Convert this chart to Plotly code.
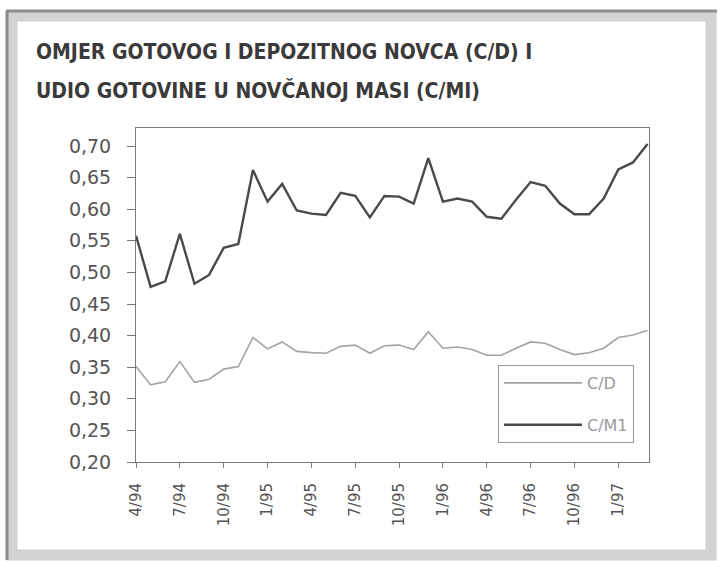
import plotly.graph_objects as go

months = ["4/94", "5/94", "6/94", "7/94", "8/94", "9/94", "10/94", "11/94", "12/94",
          "1/95", "2/95", "3/95", "4/95", "5/95", "6/95", "7/95", "8/95", "9/95",
          "10/95", "11/95", "12/95", "1/96", "2/96", "3/96", "4/96", "5/96", "6/96",
          "7/96", "8/96", "9/96", "10/96", "11/96", "12/96", "1/97", "2/97", "3/97"]

cd = [0.351, 0.322, 0.327, 0.359, 0.326, 0.331, 0.347, 0.351, 0.397,
      0.379, 0.390, 0.375, 0.373, 0.372, 0.383, 0.385, 0.372, 0.384,
      0.385, 0.378, 0.406, 0.380, 0.382, 0.378, 0.369, 0.369, 0.380,
      0.390, 0.388, 0.378, 0.370, 0.373, 0.380, 0.397, 0.401, 0.408]

cm1 = [0.558, 0.477, 0.486, 0.561, 0.482, 0.496, 0.539, 0.545, 0.662,
       0.612, 0.640, 0.598, 0.593, 0.591, 0.626, 0.621, 0.587, 0.621,
       0.620, 0.609, 0.681, 0.612, 0.617, 0.612, 0.588, 0.585, 0.615,
       0.643, 0.637, 0.609, 0.592, 0.592, 0.617, 0.663, 0.674, 0.703]

tick_labels = ["4/94", "7/94", "10/94", "1/95", "4/95", "7/95", "10/95",
               "1/96", "4/96", "7/96", "10/96", "1/97"]
y_ticks = [0.20, 0.25, 0.30, 0.35, 0.40, 0.45, 0.50, 0.55, 0.60, 0.65, 0.70]
y_tick_text = ["0,20", "0,25", "0,30", "0,35", "0,40", "0,45", "0,50", "0,55",
               "0,60", "0,65", "0,70"]

title_lines = ["OMJER GOTOVOG I DEPOZITNOG NOVCA (C/D) I",
               "UDIO GOTOVINE U NOVČANOJ MASI (C/MI)"]

W, H = 719, 561
L, R, T, B = 136, 70, 128, 99
pw, ph = W - L - R, H - T - B


def px(x):
    return (x - L) / pw


def py(y):
    return (H - B - y) / ph


fig = go.Figure()
fig.add_trace(go.Scatter(x=months, y=cd, name="C/D", mode="lines",
                         line=dict(color="#a3a3a3", width=1.6), legendgroup="a"))
fig.add_trace(go.Scatter(x=months, y=cm1, name="C/M1", mode="lines",
                         line=dict(color="#4a4a4a", width=2.4), legendgroup="b"))

title_font = dict(family="DejaVu Sans Condensed, sans-serif", size=21,
                  color="#3a3a3a", weight="bold")
annotations = [
    dict(text=title_lines[0], xref="paper", yref="paper", x=px(34), y=py(52),
         xanchor="left", yanchor="middle", showarrow=False, font=title_font),
    dict(text=title_lines[1], xref="paper", yref="paper", x=px(34), y=py(90),
         xanchor="left", yanchor="middle", showarrow=False, font=title_font),
]

axis_col = "#7a7a7a"
fig.update_layout(
    width=W, height=H,
    margin=dict(l=L, r=R, t=T, b=B),
    paper_bgcolor="white", plot_bgcolor="white",
    showlegend=True,
    annotations=annotations,
    xaxis=dict(type="category", categoryorder="array", categoryarray=months,
               range=[0, 35.1], tickmode="array", tickvals=tick_labels, ticktext=tick_labels,
               tickangle=-90, ticks="outside", ticklen=5, tickcolor=axis_col,
               showline=True, linecolor=axis_col, linewidth=1, mirror=True,
               showgrid=False, zeroline=False, ticklabelstandoff=9,
               tickfont=dict(family="DejaVu Sans", size=15, color="#555555")),
    xaxis2=dict(type="category", categoryorder="array", categoryarray=months,
                overlaying="x", anchor="y", range=[0, 35.1], tickmode="array",
                tickvals=tick_labels, ticks="inside", ticklen=4, tickcolor=axis_col,
                showticklabels=False, showline=False, showgrid=False, zeroline=False),
    yaxis=dict(range=[0.20, 0.7285], tickmode="array", tickvals=y_ticks, ticktext=y_tick_text,
               ticks="outside", ticklen=8, tickcolor=axis_col,
               showline=True, linecolor=axis_col, linewidth=1, mirror=True,
               showgrid=False, zeroline=False, ticklabelstandoff=12,
               tickfont=dict(family="DejaVu Sans", size=19, color="#555555")),
    legend=dict(x=px(498), y=py(365), xanchor="left", yanchor="top",
                bgcolor="white", bordercolor="#9a9a9a", borderwidth=1,
                font=dict(family="DejaVu Sans", size=16, color="#9a9a9a"),
                itemwidth=78, traceorder="grouped", tracegroupgap=18),
    shapes=[
        dict(type="rect", xref="paper", yref="paper",
             x0=px(12), x1=px(711), y0=py(16), y1=py(555),
             line=dict(color="#d2d2d2", width=11), layer="below"),
        dict(type="line", xref="paper", yref="paper",
             x0=px(7), x1=px(7), y0=py(11), y1=py(560),
             line=dict(color="#8c8c8c", width=3)),
        dict(type="line", xref="paper", yref="paper",
             x0=px(6), x1=px(717), y0=py(11), y1=py(11),
             line=dict(color="#8c8c8c", width=3)),
    ],
)

fig.write_html("out.html", config={"displayModeBar": False},
               post_script="document.body.style.margin='0';")
